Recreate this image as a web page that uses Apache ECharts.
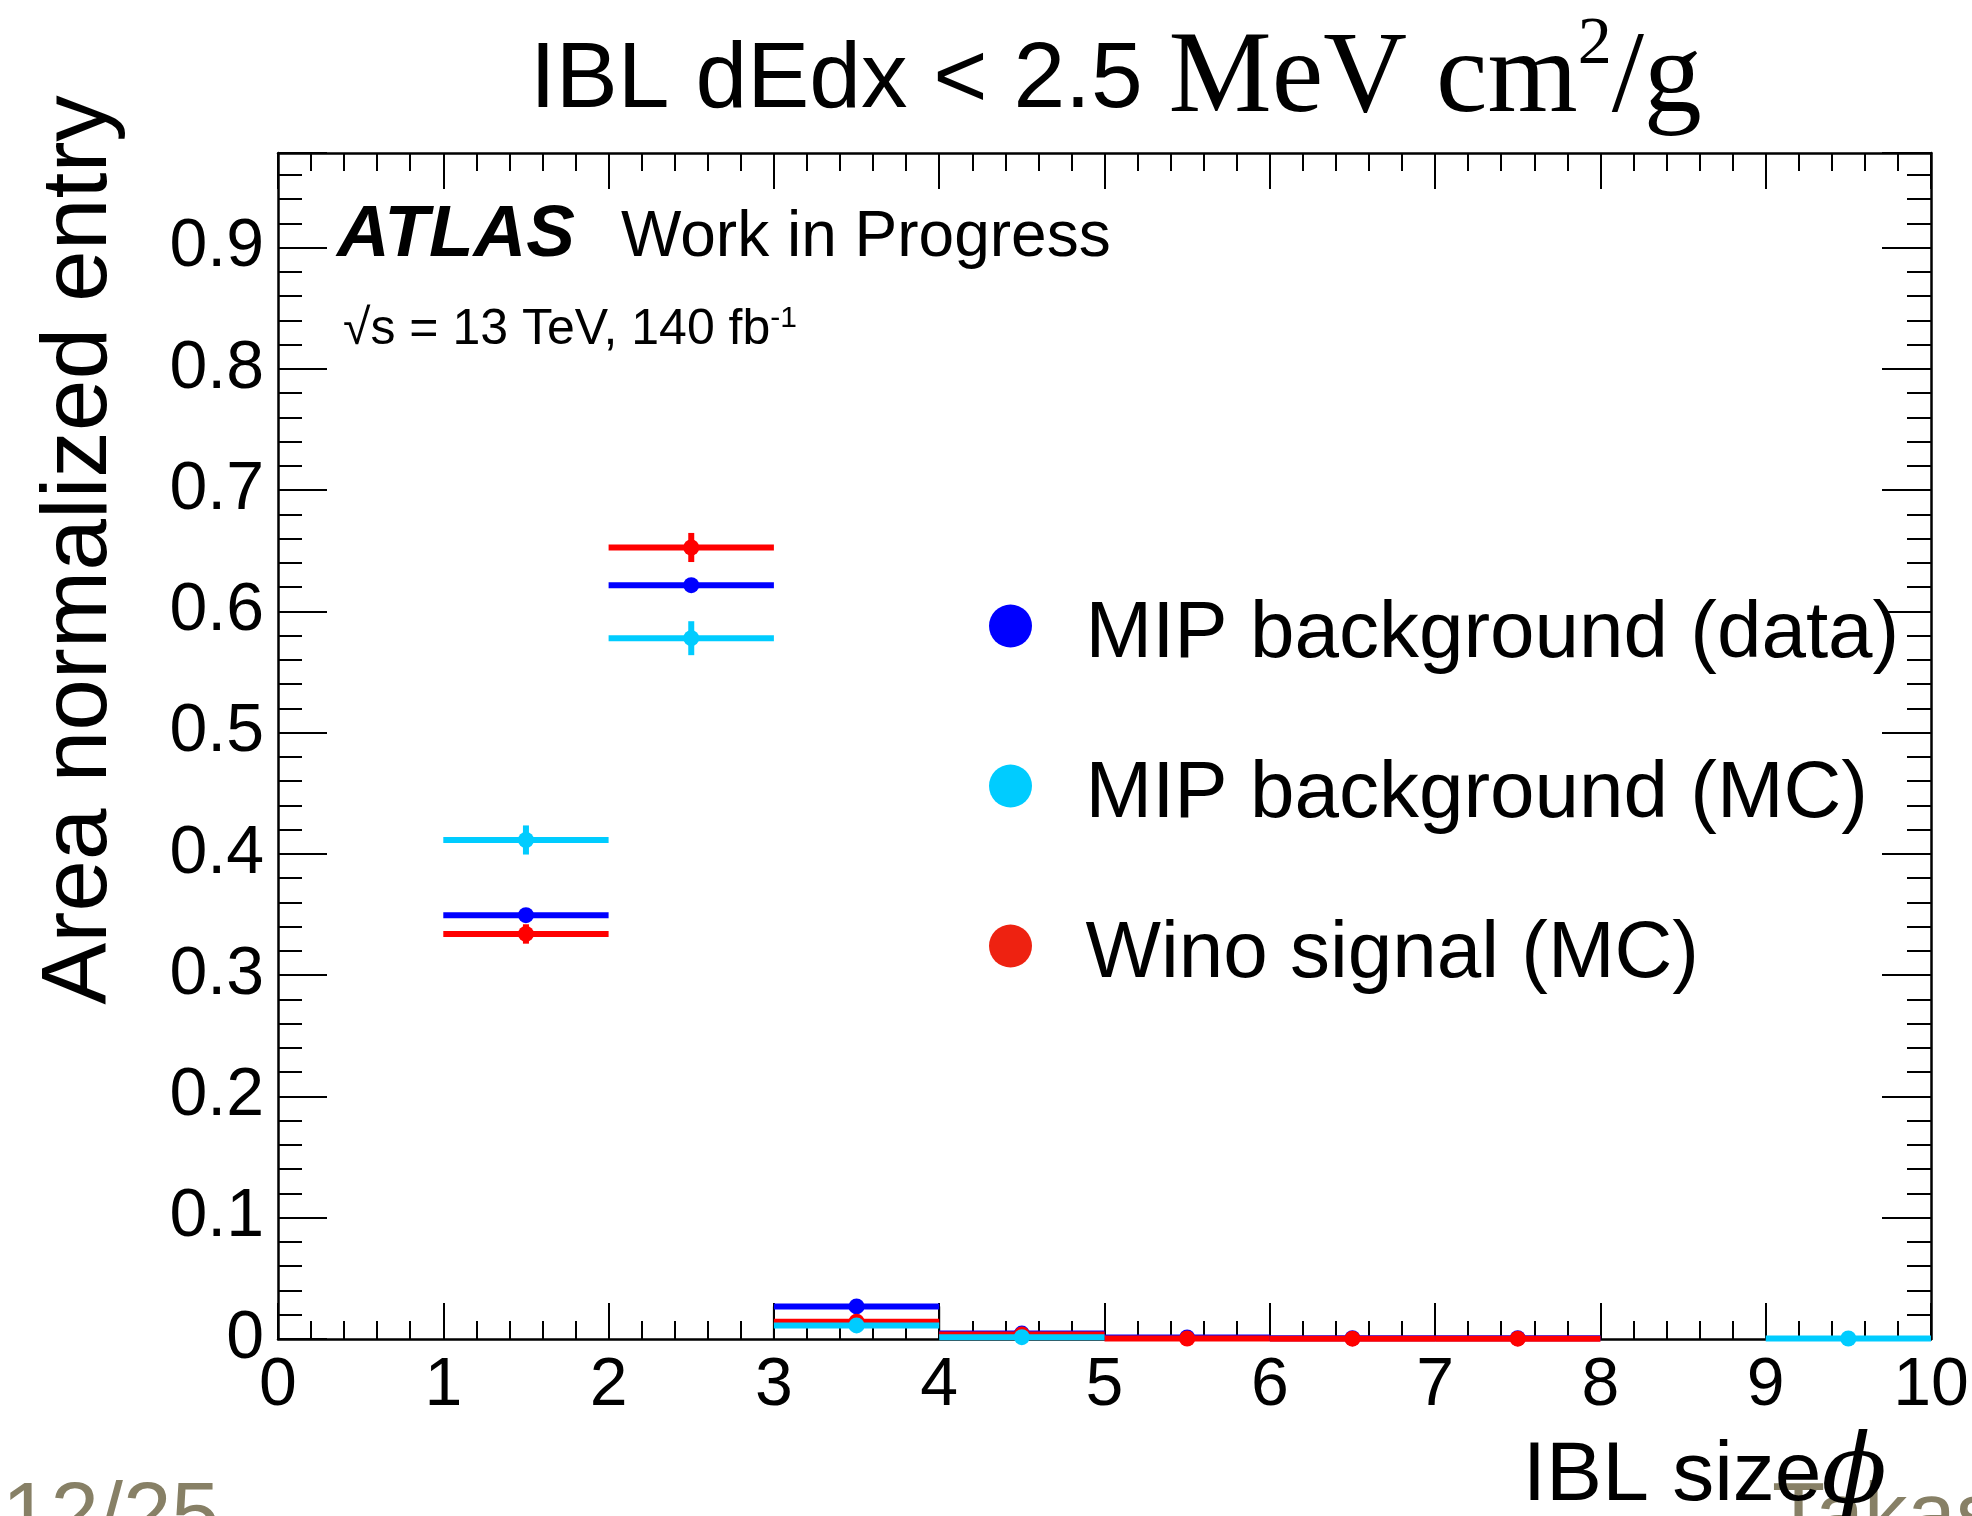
<!DOCTYPE html>
<html>
<head>
<meta charset="utf-8">
<script src="https://cdn.jsdelivr.net/npm/echarts@6.0.0/dist/echarts.min.js"></script>
<style>
  html, body { margin: 0; padding: 0; background: #ffffff; }
  #chart { width: 1972px; height: 1516px; }
</style>
</head>
<body>
<div id="chart"></div>
<script>
// ---------- data ----------
const binEdges = [0, 1, 2, 3, 4, 5, 6, 7, 8, 9, 10];
const xTickLabels = ['0', '1', '2', '3', '4', '5', '6', '7', '8', '9', '10'];
const yTickLabels = ['0', '0.1', '0.2', '0.3', '0.4', '0.5', '0.6', '0.7', '0.8', '0.9'];

// MIP background (data)
const dataValues = [null, 0.3495, 0.6216, 0.0269, 0.0045, 0.0013, 0.0007, 0.0007, null, null];
const dataErrors = [0, 0.003, 0.003, 0.001, 0.0005, 0.0003, 0.0002, 0.0002, 0, 0];
// MIP background (MC)
const mcValues = [null, 0.4115, 0.5779, 0.0112, 0.0015, null, null, null, null, 0.0004];
const mcErrors = [0, 0.012, 0.014, 0.0015, 0.0008, 0, 0, 0, 0, 0.0004];
// Wino signal (MC)
const winoValues = [null, 0.334, 0.6527, 0.0142, 0.0038, 0.0004, 0.0003, 0.0003, null, null];
const winoErrors = [0, 0.008, 0.012, 0.002, 0.001, 0.0005, 0.0004, 0.0004, 0, 0];
// black histogram outline visible in bin 3-4
const outlineBox = [[3, 0], [3, 0.0269], [4, 0.0269], [4, 0]];

const seriesNames = ['MIP background (data)', 'MIP background (MC)', 'Wino signal (MC)'];
const Y_MAX = 0.978;

function toBins(values, errors) {
  const out = [];
  for (let i = 0; i < values.length; i++) {
    if (values[i] === null) continue;
    out.push([binEdges[i], binEdges[i + 1], values[i], errors[i]]);
  }
  return out;
}

function makeRender(color) {
  return function (params, api) {
    const lo = api.value(0), hi = api.value(1), y = api.value(2), e = api.value(3);
    const xc = (lo + hi) / 2;
    const a = api.coord([lo, y]), b = api.coord([hi, y]);
    const c = api.coord([xc, y]);
    const t = api.coord([xc, y + e]), d = api.coord([xc, y - e]);
    return {
      type: 'group',
      children: [
        { type: 'line', shape: { x1: a[0], y1: a[1], x2: b[0], y2: b[1] }, style: { stroke: color, lineWidth: 6 } },
        { type: 'line', shape: { x1: t[0], y1: t[1], x2: d[0], y2: d[1] }, style: { stroke: color, lineWidth: 6 } },
        { type: 'circle', shape: { cx: c[0], cy: c[1], r: 8 }, style: { fill: color } }
      ]
    };
  };
}

const SANS = 'Liberation Sans, Arial, Helvetica, sans-serif';
const SERIF = 'Liberation Serif, Times New Roman, serif';

function yLabel(v) {
  const i = Math.round(v * 10);
  if (Math.abs(v * 10 - i) < 1e-6 && i >= 0 && i < yTickLabels.length) return yTickLabels[i];
  return '';
}
function xLabel(v) {
  const i = Math.round(v);
  return xTickLabels[i] !== undefined ? xTickLabels[i] : '';
}

const frameLine = { show: true, onZero: false, lineStyle: { color: '#000', width: 2.5 } };
const noLine = { show: false, onZero: false };

const chart = echarts.init(document.getElementById('chart'), null, { renderer: 'canvas' });
chart.setOption({
  animation: false,
  backgroundColor: '#ffffff',
  grid: { left: 278, top: 153, width: 1653, height: 1186, containLabel: false },
  xAxis: [
    {
      type: 'value', min: 0, max: 10, interval: 1, position: 'bottom',
      axisLine: frameLine,
      axisTick: { show: true, inside: true, length: 36, lineStyle: { color: '#000', width: 2 } },
      minorTick: { show: true, splitNumber: 5, length: 18, lineStyle: { color: '#000', width: 2 } },
      axisLabel: { show: true, formatter: xLabel, fontSize: 68, color: '#000', fontFamily: SANS, margin: 13 },
      splitLine: { show: false }, minorSplitLine: { show: false }
    },
    {
      type: 'value', min: 0, max: 10, interval: 1, position: 'top',
      axisLine: frameLine,
      axisTick: { show: true, inside: true, length: 36, lineStyle: { color: '#000', width: 2 } },
      minorTick: { show: true, splitNumber: 5, length: 18, lineStyle: { color: '#000', width: 2 } },
      axisLabel: { show: false },
      splitLine: { show: false }
    }
  ],
  yAxis: [
    {
      type: 'value', min: 0, max: Y_MAX, interval: 0.1, position: 'left',
      axisLine: frameLine,
      axisTick: { show: true, inside: true, length: 49, lineStyle: { color: '#000', width: 2 } },
      axisLabel: { show: true, formatter: yLabel, fontSize: 68, color: '#000', fontFamily: SANS, margin: 14 },
      splitLine: { show: false }
    },
    {
      type: 'value', min: 0, max: Y_MAX, interval: 0.02, position: 'left',
      axisLine: noLine,
      axisTick: { show: true, inside: true, length: 24, lineStyle: { color: '#000', width: 2 } },
      axisLabel: { show: false },
      splitLine: { show: false }
    },
    {
      type: 'value', min: 0, max: Y_MAX, interval: 0.1, position: 'right',
      axisLine: frameLine,
      axisTick: { show: true, inside: true, length: 49, lineStyle: { color: '#000', width: 2 } },
      axisLabel: { show: false },
      splitLine: { show: false }
    },
    {
      type: 'value', min: 0, max: Y_MAX, interval: 0.02, position: 'right',
      axisLine: noLine,
      axisTick: { show: true, inside: true, length: 24, lineStyle: { color: '#000', width: 2 } },
      axisLabel: { show: false },
      splitLine: { show: false }
    }
  ],
  legend: {
    orient: 'vertical', left: 989, top: 577, padding: 0,
    itemWidth: 140, itemHeight: 43, itemGap: 62,
    selectedMode: false,
    formatter: '{t|{name}}',
    textStyle: {
      fontSize: 80, lineHeight: 80, color: '#000', fontFamily: SANS,
      rich: { t: { fontSize: 80, lineHeight: 80, padding: [18, 0, 0, 0], color: '#000', fontFamily: SANS } }
    },
    data: [
      { name: seriesNames[0], icon: 'circle', itemStyle: { color: '#0000ff' } },
      { name: seriesNames[1], icon: 'circle', itemStyle: { color: '#00ccff' } },
      { name: seriesNames[2], icon: 'circle', itemStyle: { color: '#ee2211' } }
    ]
  },
  series: [
    {
      name: 'outline', type: 'line', data: outlineBox, xAxisIndex: 0, yAxisIndex: 0,
      symbol: 'none', lineStyle: { color: '#000', width: 2 }, z: 1, silent: true
    },
    {
      name: seriesNames[0], type: 'custom', xAxisIndex: 0, yAxisIndex: 0, z: 2,
      renderItem: makeRender('#0000ff'), data: toBins(dataValues, dataErrors),
      encode: { x: [0, 1], y: 2 }, itemStyle: { color: '#0000ff' }
    },
    {
      name: seriesNames[2], type: 'custom', xAxisIndex: 0, yAxisIndex: 0, z: 2,
      renderItem: makeRender('#ff0000'), data: toBins(winoValues, winoErrors),
      encode: { x: [0, 1], y: 2 }, itemStyle: { color: '#ff0000' }
    },
    {
      name: seriesNames[1], type: 'custom', xAxisIndex: 0, yAxisIndex: 0, z: 2,
      renderItem: makeRender('#00ccff'), data: toBins(mcValues, mcErrors),
      encode: { x: [0, 1], y: 2 }, itemStyle: { color: '#00ccff' }
    }
  ],
  graphic: [
    // title
    {
      type: 'text', x: 530, y: 81, z: 10,
      style: {
        text: '{a|IBL dEdx < 2.5 }{b|MeV cm}{s|2}{b|/g}',
        align: 'left', verticalAlign: 'middle',
        rich: {
          a: { fontFamily: SANS, fontSize: 93, lineHeight: 140, fill: '#000' },
          b: { fontFamily: SERIF, fontSize: 116, lineHeight: 140, fill: '#000' },
          s: { fontFamily: SERIF, fontSize: 68, lineHeight: 68, verticalAlign: 'top', fill: '#000' }
        }
      }
    },
    // ATLAS label
    {
      type: 'text', x: 337, y: 236, z: 10,
      style: { text: 'ATLAS', fontFamily: SANS, fontSize: 73, fontWeight: 'bold', fontStyle: 'italic', fill: '#000', align: 'left', verticalAlign: 'middle' }
    },
    {
      type: 'text', x: 621, y: 238, z: 10,
      style: { text: 'Work in Progress', fontFamily: SANS, fontSize: 64, fill: '#000', align: 'left', verticalAlign: 'middle' }
    },
    {
      type: 'text', x: 343, y: 330, z: 10,
      style: {
        text: '{n|\u221As = 13 TeV, 140 fb}{s|-1}',
        align: 'left', verticalAlign: 'middle',
        rich: {
          n: { fontFamily: SANS, fontSize: 50, lineHeight: 52, fill: '#000' },
          s: { fontFamily: SANS, fontSize: 30, lineHeight: 30, verticalAlign: 'top', fill: '#000' }
        }
      }
    },
    // y axis title
    {
      type: 'text', x: 80, y: 550, rotation: Math.PI / 2, z: 10,
      style: { text: 'Area normalized entry', fontFamily: SANS, fontSize: 93, fill: '#000', align: 'center', verticalAlign: 'middle' }
    },
    // x axis title
    {
      type: 'text', x: 1887, y: 1477, z: 10,
      style: {
        text: '{a|IBL size}{p|\u03D5}',
        align: 'right', verticalAlign: 'middle',
        rich: {
          a: { fontFamily: SANS, fontSize: 84, lineHeight: 110, fill: '#000' },
          p: { fontFamily: 'DejaVu Serif, serif', fontStyle: 'italic', fontSize: 96, lineHeight: 110, fill: '#000' }
        }
      }
    },
    // slide footer remnants
    {
      type: 'text', x: 2, y: 1519, z: 10,
      style: { text: '12/25', fontFamily: SANS, fontSize: 87, fill: '#878066', align: 'left', verticalAlign: 'middle' }
    },
    {
      type: 'text', x: 1772, y: 1519, z: 9,
      style: { text: 'Takas', fontFamily: SANS, fontSize: 87, fill: '#878066', align: 'left', verticalAlign: 'middle' }
    }
  ]
});
</script>
</body>
</html>
